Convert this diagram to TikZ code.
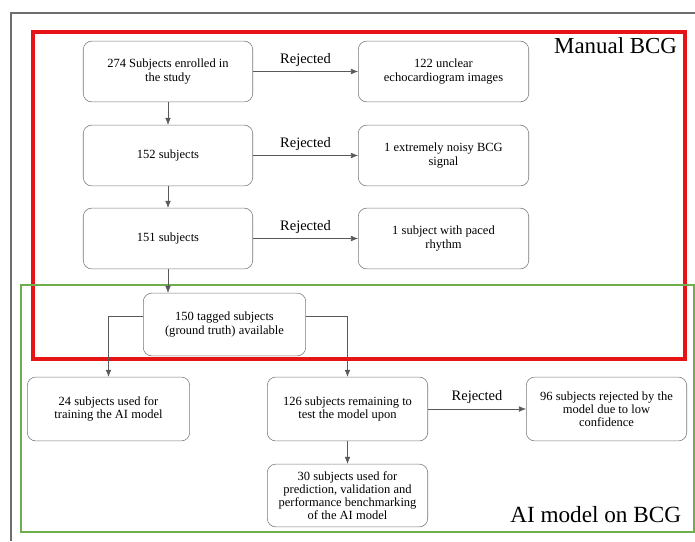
\documentclass[tikz,border=0pt]{standalone}
\usepackage{fontspec}
\setmainfont{Liberation Serif}
\usetikzlibrary{arrows.meta}

\definecolor{framegray}{RGB}{110,110,110}
\definecolor{boxgray}{RGB}{120,120,120}
\definecolor{manred}{RGB}{230,20,20}
\definecolor{aigreen}{RGB}{110,175,75}

\tikzset{
    stage/.style={draw=boxgray, rounded corners=6pt, align=center,
        font=\fontsize{8.9}{9.4}\selectfont,
        minimum width=120.5pt, minimum height=43.2pt, inner sep=2pt},
    flow/.style={draw=black!65, -{Latex[length=5pt,width=4pt]}},
    rej/.style={above, font=\fontsize{10.3}{12}\selectfont}
}

\begin{document}
\begin{tikzpicture}[x=0.025cm, y=-0.025cm]
        \useasboundingbox (0,0) rectangle (695,541);

        % Frames
        \draw[framegray, line width=2pt] (11,541) -- (11,13) -- (695,13);
        \draw[manred, line width=2.2pt] (33,32) rectangle (685,359);
        \draw[aigreen, line width=1.8pt] (21,285) rectangle (694,532);
        \node[anchor=north east, font=\fontsize{16.3}{19}\selectfont] (manual) at (682,33) {Manual BCG};
        \node[anchor=south east, font=\fontsize{16.5}{19}\selectfont] (aimodel) at (686,528) {AI model on BCG};

        % Pieces
        \node[stage] (enrolled) at (168, 71.5) {274 Subjects enrolled in\\the study};
        \node[stage] (s152) at (168, 155.5) {152 subjects};
        \node[stage] (s151) at (168, 238.5) {151 subjects};
        \node[stage, minimum width=121.2pt] (unclear) at (443.5, 71.5) {122 unclear\\echocardiogram images};
        \node[stage, minimum width=121.2pt] (noisy) at (443.5, 155.5) {1 extremely noisy BCG\\signal};
        \node[stage, minimum width=121.2pt] (paced) at (443.5, 238.5) {1 subject with paced\\rhythm};
        \node[stage, minimum width=115.5pt, minimum height=44.6pt] (tagged) at (224.5, 324.5) {150 tagged subjects\\(ground truth) available};
        \node[stage, minimum width=115.5pt, minimum height=45.4pt] (train) at (108.5, 409) {24 subjects used for\\training the AI model};
        \node[stage, minimum width=114.1pt, minimum height=45.4pt] (remain) at (347.5, 409) {126 subjects remaining to\\test the model upon};
        \node[stage, minimum width=114.1pt, minimum height=44.6pt] (pred) at (347.5, 495.5) {30 subjects used for\\prediction, validation and\\performance benchmarking\\of the AI model};
        \node[stage, minimum width=114.1pt, minimum height=45.4pt] (lowconf) at (606.5, 409) {96 subjects rejected by the\\model due to low\\confidence};

        % Arrows
        \draw[flow] (enrolled) -- (s152);
        \draw[flow] (s152) -- (s151);
        \draw[flow] (s151) -- (s151 |- tagged.north);
        \draw[flow] (enrolled) -- (unclear) node[midway, rej] {Rejected};
        \draw[flow] (s152) -- (noisy) node[midway, rej] {Rejected};
        \draw[flow] (s151) -- (paced) node[midway, rej] {Rejected};
        \draw[flow] ([yshift=6pt]tagged.west) -| (train.north);
        \draw[flow] ([yshift=6pt]tagged.east) -| (remain.north);
        \draw[flow] (remain) -- (pred);
        \draw[flow] (remain) -- (lowconf) node[midway, rej] {Rejected};
    \end{tikzpicture}
\end{document}
